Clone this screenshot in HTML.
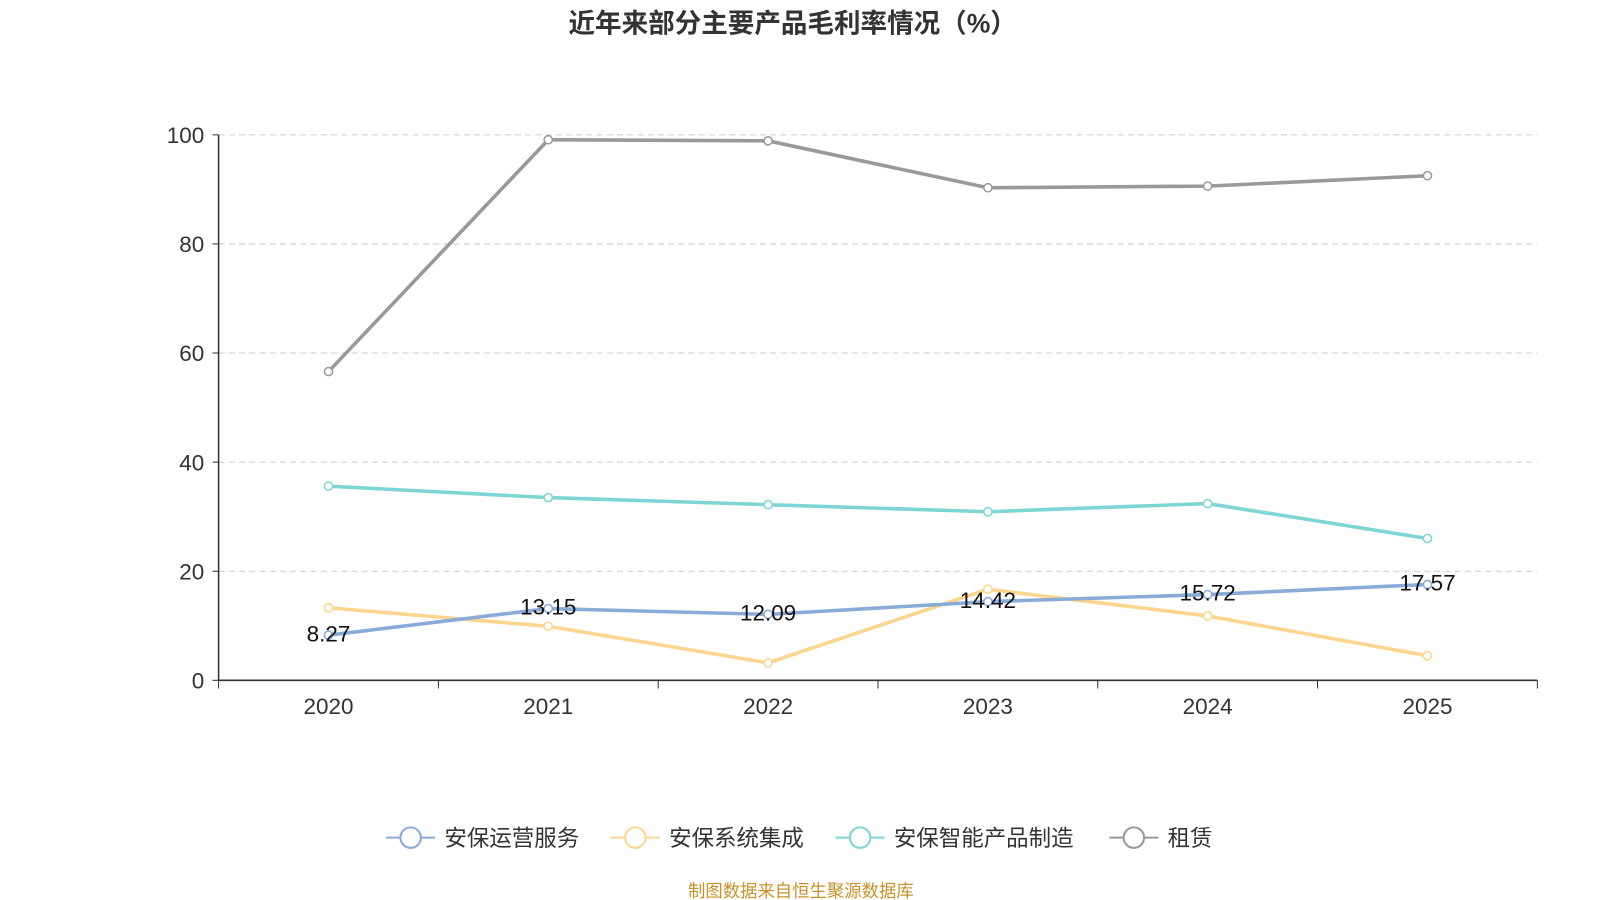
<!DOCTYPE html>
<html><head><meta charset="utf-8">
<style>
html,body{margin:0;padding:0;background:#fff;}
svg{display:block;font-family:"Liberation Sans","Noto Sans CJK SC",sans-serif;}
</style></head>
<body>
<svg id="chart" width="1600" height="900" viewBox="0 0 1600 900">
<g transform="scale(1.0215)">
<text x="776" y="32" text-anchor="middle" font-size="26" font-weight="bold" fill="#333">近年来部分主要产品毛利率情况（%）</text>
<g id="grid"></g><g id="axes"></g><g id="series"></g><g id="labels"></g>
<g id="legend"></g>
<text x="784" y="878" text-anchor="middle" font-size="17" fill="#c8912a">制图数据来自恒生聚源数据库</text>
</g>
</svg>
<script>
const categories=["2020","2021","2022","2023","2024","2025"];
const yTicks=[0,20,40,60,80,100];
const seriesNames=["安保运营服务","安保系统集成","安保智能产品制造","租赁"];
const colors=["#8aaad8","#fcd68f","#7fd4d4","#999999"];
const opsService=[8.27,13.15,12.09,14.42,15.72,17.57];
const systemIntegration=[13.3,9.9,3.2,16.7,11.8,4.5];
const productMfg=[35.6,33.5,32.2,30.9,32.4,26.0];
const leasing=[56.6,99.1,98.9,90.3,90.6,92.5];
const allSeries=[opsService,systemIntegration,productMfg,leasing];
const opsLabels=["8.27","13.15","12.09","14.42","15.72","17.57"];

const NS="http://www.w3.org/2000/svg";
const x0=214,x1=1505,yBase=666,yTop=132;
const step=(x1-x0)/categories.length;
const xs=i=>x0+step*(i+0.5);
const ys=v=>yBase-(v/100)*(yBase-yTop);
function mk(tag,attrs,parent){const e=document.createElementNS(NS,tag);for(const k in attrs)e.setAttribute(k,attrs[k]);parent.appendChild(e);return e;}
const grid=document.getElementById('grid'),axes=document.getElementById('axes'),ser=document.getElementById('series'),lab=document.getElementById('labels'),leg=document.getElementById('legend');
yTicks.forEach(t=>{
  if(t>0){const l=mk('line',{x1:x0,x2:x1,y1:ys(t),y2:ys(t),stroke:'#ccc','stroke-dasharray':'6,4'},grid);
  
  }
  const tx=mk('text',{x:200,y:ys(t)+8,'text-anchor':'end','font-size':22,fill:'#333'},axes);tx.textContent=t;
  
  
  const tk=mk('line',{x1:x0-6,x2:x0,y1:ys(t),y2:ys(t),stroke:'#333'},axes);
  
  
});
const ya=mk('line',{x1:x0,x2:x0,y1:yTop,y2:yBase,stroke:'#333','stroke-width':1.5},axes);


const xa=mk('line',{x1:x0,x2:x1,y1:yBase,y2:yBase,stroke:'#333','stroke-width':1.5},axes);


for(let i=0;i<=categories.length;i++){
  const tk=mk('line',{x1:x0+step*i,x2:x0+step*i,y1:yBase,y2:yBase+8,stroke:'#333'},axes);
  
  
}
categories.forEach((c,i)=>{
  const t=mk('text',{x:xs(i),y:699,'text-anchor':'middle','font-size':22,fill:'#333'},axes);t.textContent=c;
  
  
});
const order=[3,2,1,0];
order.forEach(s=>{
  const d=allSeries[s];
  const pl=mk('polyline',{points:d.map((v,i)=>xs(i)+','+ys(v)).join(' '),fill:'none',stroke:colors[s],'stroke-width':3.5},ser);
  
  
  d.forEach((v,i)=>{
    const c=mk('circle',{cx:xs(i),cy:ys(v),r:4,fill:'#fff',stroke:colors[s],'stroke-width':1.5},ser);
    
    
  });
});
opsService.forEach((v,i)=>{
  const t=mk('text',{x:xs(i),y:ys(v)+6,'text-anchor':'middle','font-size':22,fill:'#111'},lab);t.textContent=opsLabels[i];
  
  
});
const legX=[378,598,818,1086];
seriesNames.forEach((n,i)=>{
  const g=mk('g',{},leg);
  
  
  const lx=legX[i];
  mk('line',{x1:lx,x2:lx+48,y1:820,y2:820,stroke:colors[i],'stroke-width':2},g);
  mk('circle',{cx:lx+24,cy:820,r:10,fill:'#fff',stroke:colors[i],'stroke-width':2},g);
  const t=mk('text',{x:lx+57,y:828,'font-size':22,fill:'#333'},g);t.textContent=n;
});
</script>
</body></html>
